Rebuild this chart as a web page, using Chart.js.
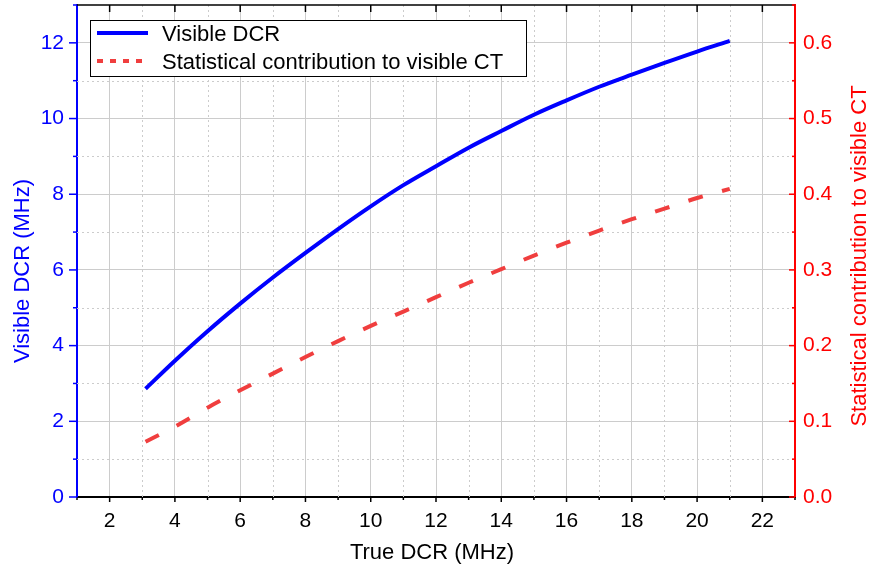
<!DOCTYPE html>
<html>
<head>
<meta charset="utf-8">
<script src="https://cdn.jsdelivr.net/npm/chart.js@4.4.1/dist/chart.umd.min.js"></script>
<style>
  html, body { margin: 0; padding: 0; background: #fff; }
  #wrap { width: 871px; height: 567px; position: relative; }
</style>
</head>
<body>
<div id="wrap"><canvas id="dcrChart"></canvas></div>
<script>
const trueDcr = [3.1, 4, 5, 6, 7, 8, 9, 10, 11, 12, 13, 14, 15, 16, 17, 18, 19, 20, 21]
const visibleDcr = [2.86, 3.6, 4.38, 5.11, 5.8, 6.45, 7.08, 7.68, 8.24, 8.74, 9.23, 9.67, 10.1, 10.48, 10.84, 11.16, 11.47, 11.77, 12.05]
const ctContribution = [0.073, 0.093, 0.118, 0.141, 0.163, 0.185, 0.206, 0.226, 0.245, 0.264, 0.283, 0.301, 0.319, 0.336, 0.352, 0.367, 0.381, 0.395, 0.407]

const xTicks = [2, 4, 6, 8, 10, 12, 14, 16, 18, 20, 22]
const xMinor = [1, 3, 5, 7, 9, 11, 13, 15, 17, 19, 21, 23]
const yTicks = [0, 2, 4, 6, 8, 10, 12]
const yMinor = [1, 3, 5, 7, 9, 11, 13]
const ctTicks = [0, 0.1, 0.2, 0.3, 0.4, 0.5, 0.6]
const ctMinor = [0.05, 0.15, 0.25, 0.35, 0.45, 0.55, 0.65]

const FONT = 'Liberation Sans, Arial, sans-serif'
const BLUE = '#0000ff'
const RED = '#ff0000'
const RED_LINE = 'rgb(240, 62, 62)'
const GRID = '#cccccc'

const setTicks = (vals) => (scale) => { scale.ticks = vals.map(v => ({ value: v })) }
// fixed box sizes, no extra padding for overflowing labels
const fixSize = (prop, size) => (s) => {
  s[prop] = size
  s.paddingTop = 0
  s.paddingBottom = 0
  s.paddingLeft = 0
  s.paddingRight = 0
}

// minor grid, tick marks, top frame, axis titles and legend
const decor = {
  id: 'decor',
  beforeDatasetsDraw (chart) {
    const { ctx, chartArea: a, scales } = chart
    ctx.save()
    ctx.strokeStyle = GRID
    ctx.lineWidth = 1
    ctx.setLineDash([2, 3])
    xMinor.forEach(v => {
      const x = Math.round(scales.x.getPixelForValue(v)) + 0.5
      if (x <= a.left + 1 || x >= a.right - 1) return
      ctx.beginPath(); ctx.moveTo(x, a.top); ctx.lineTo(x, a.bottom); ctx.stroke()
    })
    yMinor.forEach(v => {
      const y = Math.round(scales.y.getPixelForValue(v)) + 0.5
      if (y <= a.top + 1 || y >= a.bottom - 1) return
      ctx.beginPath(); ctx.moveTo(a.left, y); ctx.lineTo(a.right, y); ctx.stroke()
    })
    ctx.restore()
  },
  afterDraw (chart) {
    const { ctx, chartArea: a, scales } = chart
    ctx.save()
    ctx.lineWidth = 1.5
    const line = (x1, y1, x2, y2, c) => {
      ctx.strokeStyle = c
      ctx.beginPath(); ctx.moveTo(x1, y1); ctx.lineTo(x2, y2); ctx.stroke()
    }
    // top frame
    line(a.left, a.top, a.right, a.top, '#000')
    xTicks.forEach(v => {
      const x = scales.x.getPixelForValue(v)
      line(x, a.top, x, a.top + 7, '#000')
      line(x, a.bottom, x, a.bottom + 5, '#000')
    })
    xMinor.forEach(v => {
      const x = scales.x.getPixelForValue(v)
      line(x, a.bottom, x, a.bottom + 3, '#000')
    })
    yTicks.forEach(v => {
      const y = scales.y.getPixelForValue(v)
      line(a.left - 8, y, a.left, y, BLUE)
    })
    yMinor.forEach(v => {
      const y = scales.y.getPixelForValue(v)
      line(a.left - 4, y, a.left, y, BLUE)
    })
    ctTicks.forEach(v => {
      const y = scales.y1.getPixelForValue(v)
      line(a.right - 6, y, a.right, y, RED)
    })
    ctMinor.forEach(v => {
      const y = scales.y1.getPixelForValue(v)
      line(a.right - 3, y, a.right, y, RED)
    })

    // axis titles
    ctx.font = '22px ' + FONT
    ctx.textAlign = 'center'
    ctx.textBaseline = 'alphabetic'
    ctx.fillStyle = '#000'
    ctx.fillText('True DCR (MHz)', 432, 559)
    ctx.save()
    ctx.translate(29, 271)
    ctx.rotate(-Math.PI / 2)
    ctx.fillStyle = BLUE
    ctx.fillText('Visible DCR (MHz)', 0, 0)
    ctx.restore()
    ctx.save()
    ctx.translate(866, 256)
    ctx.rotate(-Math.PI / 2)
    ctx.fillStyle = RED
    ctx.fillText('Statistical contribution to visible CT', 0, 0)
    ctx.restore()

    // legend
    const lx = 90, ly = 20, lw = 436, lh = 56
    ctx.fillStyle = '#fff'
    ctx.fillRect(lx, ly, lw, lh)
    ctx.lineWidth = 1
    ctx.strokeStyle = '#000'
    ctx.strokeRect(lx + 0.5, ly + 0.5, lw, lh)
    const rows = [33, 61]
    chart.data.datasets.forEach((ds, i) => {
      const y = rows[i]
      ctx.strokeStyle = ds.borderColor
      ctx.lineWidth = 4
      ctx.setLineDash(ds.borderDash ? [6, 7] : [])
      ctx.beginPath(); ctx.moveTo(97, y); ctx.lineTo(148, y); ctx.stroke()
      ctx.setLineDash([])
      ctx.fillStyle = '#000'
      ctx.textAlign = 'left'
      ctx.fillText(ds.label, 162, y + 8)
    })
    ctx.restore()
  }
}

const ctx = document.getElementById('dcrChart').getContext('2d')

const dcrChart = new Chart(ctx, {
  type: 'line',
  data: {
    datasets: [
      {
        label: 'Visible DCR',
        data: trueDcr.map((x, i) => ({ x, y: visibleDcr[i] })),
        yAxisID: 'y',
        borderColor: BLUE,
        borderWidth: 4,
        pointRadius: 0,
        cubicInterpolationMode: 'monotone'
      },
      {
        label: 'Statistical contribution to visible CT',
        data: trueDcr.map((x, i) => ({ x, y: ctContribution[i] })),
        yAxisID: 'y1',
        borderColor: RED_LINE,
        borderWidth: 4,
        borderDash: [15, 20],
        pointRadius: 0,
        cubicInterpolationMode: 'monotone'
      }
    ]
  },
  options: {
    responsive: true,
    maintainAspectRatio: false,
    animation: false,
    layout: { padding: { top: 5, left: 0, right: 0, bottom: 0 } },
    plugins: {
      legend: { display: false },
      tooltip: { enabled: false }
    },
    scales: {
      x: {
        type: 'linear',
        min: 1,
        max: 23,
        afterBuildTicks: setTicks(xTicks),
        afterFit: fixSize('height', 70),
        grid: { color: GRID, drawTicks: false },
        border: { color: '#000', width: 2 },
        ticks: { color: '#000', font: { family: FONT, size: 21 }, padding: 12, maxRotation: 0 }
      },
      y: {
        position: 'left',
        min: 0,
        max: 13,
        afterBuildTicks: setTicks(yTicks),
        afterFit: fixSize('width', 77),
        grid: { color: GRID, drawTicks: false },
        border: { color: BLUE, width: 2 },
        ticks: { color: BLUE, font: { family: FONT, size: 21 }, padding: 13 }
      },
      y1: {
        position: 'right',
        min: 0,
        max: 0.65,
        afterBuildTicks: setTicks(ctTicks),
        afterFit: fixSize('width', 76),
        grid: { display: false, drawTicks: false },
        border: { color: RED, width: 2 },
        ticks: { color: RED, font: { family: FONT, size: 21 }, padding: 8, callback: (v) => v.toFixed(1) }
      }
    }
  },
  plugins: [decor]
})
</script>
</body>
</html>
